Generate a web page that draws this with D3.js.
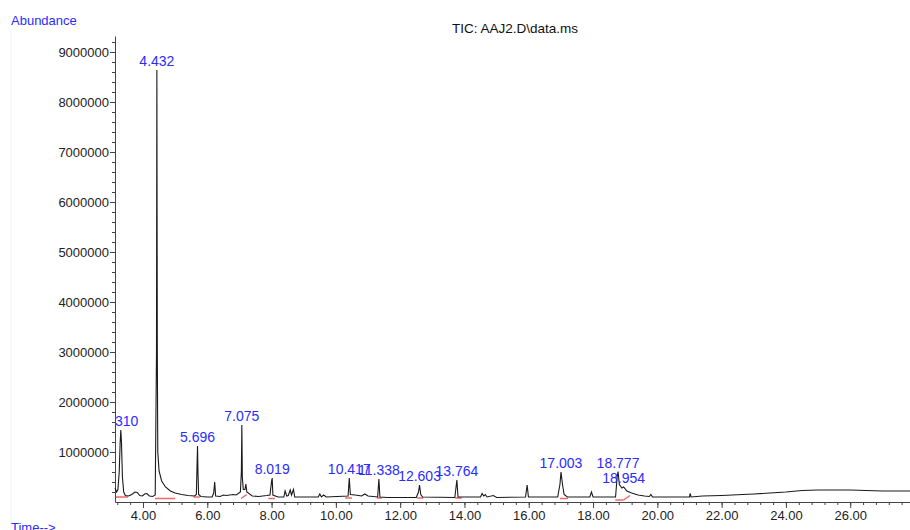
<!DOCTYPE html>
<html>
<head>
<meta charset="utf-8">
<script src="https://cdn.jsdelivr.net/npm/d3@7"></script>
<style>
  body { margin: 0; background: #fff; }
  svg { display: block; font-family: "Liberation Sans", Arial, sans-serif; }
  .tick-label { font-size: 13px; fill: #222; }
  .peak-label { font-size: 14px; fill: #2b2bff; }
  .blue-label { font-size: 13px; fill: #2b2bff; }
</style>
</head>
<body>
<div id="chart"></div>
<script>
// TIC trace: [time (min), abundance]
const trace = [
  [3.13, 280000], [3.18, 200000], [3.22, 250000], [3.26, 600000], [3.29, 1200000],
  [3.31, 1440000], [3.33, 1200000], [3.36, 500000], [3.40, 200000], [3.45, 130000],
  [3.55, 120000], [3.65, 150000], [3.75, 200000], [3.82, 190000], [3.90, 130000],
  [3.98, 120000], [4.05, 160000], [4.12, 170000], [4.20, 120000], [4.30, 110000],
  [4.38, 140000], [4.42, 3000000], [4.432, 8640000], [4.445, 3000000], [4.46, 1000000],
  [4.50, 620000], [4.58, 420000], [4.70, 300000], [4.85, 220000], [5.00, 180000],
  [5.20, 150000], [5.40, 130000], [5.60, 120000], [5.66, 150000], [5.68, 700000],
  [5.696, 1120000], [5.71, 600000], [5.73, 150000], [5.80, 110000], [6.00, 100000],
  [6.15, 100000], [6.20, 180000], [6.23, 400000], [6.26, 120000], [6.40, 110000],
  [6.50, 140000], [6.60, 130000], [6.80, 150000], [6.90, 140000], [7.03, 200000],
  [7.06, 600000], [7.075, 1540000], [7.09, 500000], [7.12, 250000], [7.17, 250000],
  [7.20, 360000], [7.23, 200000], [7.40, 120000], [7.60, 110000], [7.85, 130000],
  [7.95, 140000], [8.00, 420000], [8.019, 480000], [8.04, 140000], [8.20, 100000],
  [8.38, 100000], [8.42, 220000], [8.47, 120000], [8.52, 130000], [8.58, 240000],
  [8.62, 140000], [8.68, 250000], [8.72, 100000], [9.00, 100000], [9.45, 100000],
  [9.50, 160000], [9.55, 100000], [9.62, 140000], [9.70, 100000], [10.38, 120000],
  [10.417, 480000], [10.45, 150000], [10.60, 140000], [10.80, 120000], [10.90, 160000],
  [11.00, 120000], [11.30, 100000], [11.338, 460000], [11.37, 100000], [11.60, 90000],
  [12.50, 90000], [12.57, 200000], [12.603, 340000], [12.64, 150000], [12.70, 100000],
  [13.70, 90000], [13.764, 440000], [13.80, 100000], [14.50, 100000], [14.55, 170000],
  [14.60, 120000], [14.65, 150000], [14.70, 100000], [14.90, 130000], [15.00, 90000],
  [15.90, 100000], [15.95, 340000], [15.99, 100000], [16.90, 100000], [16.97, 350000],
  [17.003, 600000], [17.05, 350000], [17.10, 150000], [17.20, 100000], [17.90, 100000],
  [17.95, 200000], [18.00, 100000], [18.70, 100000], [18.75, 500000], [18.777, 610000],
  [18.82, 350000], [18.90, 280000], [18.954, 300000], [19.05, 220000], [19.20, 180000],
  [19.40, 140000], [19.60, 120000], [19.75, 110000], [19.80, 150000], [19.85, 100000],
  [20.50, 100000], [21.00, 100000], [21.02, 170000], [21.05, 100000], [21.40, 120000],
  [22.00, 130000], [23.00, 160000], [24.00, 200000], [24.50, 230000], [25.00, 240000],
  [26.00, 240000], [27.00, 220000], [27.86, 220000]
];

// labelled peaks
const peakTimes = [3.310, 4.432, 5.696, 7.075, 8.019, 10.417, 11.338, 12.603, 13.764, 17.003, 18.777, 18.954];
const peakApex = [1440000, 8640000, 1120000, 1540000, 480000, 480000, 460000, 340000, 440000, 600000, 610000, 300000];
const peakLabels = ["3.310", "4.432", "5.696", "7.075", "8.019", "10.417", "11.338", "12.603", "13.764", "17.003", "18.777", "18.954"];

// red integration baselines: [t1, a1, t2, a2]
const baselines = [
  [3.16, 100000, 3.53, 100000], [4.37, 70000, 5.00, 70000], [5.57, 100000, 5.77, 100000],
  [7.05, 70000, 7.23, 150000], [7.90, 70000, 8.10, 70000], [10.29, 80000, 10.50, 80000],
  [11.27, 80000, 11.43, 80000], [12.52, 80000, 12.72, 80000], [13.71, 80000, 13.92, 80000],
  [16.97, 70000, 17.22, 70000], [18.69, 40000, 18.95, 40000], [18.95, 40000, 19.15, 130000]
];

const xTickValues = [4, 6, 8, 10, 12, 14, 16, 18, 20, 22, 24, 26];
const yTickValues = [1000000, 2000000, 3000000, 4000000, 5000000, 6000000, 7000000, 8000000, 9000000];

function drawChart() {
    const W = 910, H = 530;
    const left = 115, right = 910, bottom = 502, top = 36;

    const svg = d3.select("#chart").append("svg")
        .attr("width", W)
        .attr("height", H);

    svg.append("rect").attr("width", W).attr("height", H).attr("fill", "#fff");

    // faint frame line on the far left
    svg.append("line")
        .attr("x1", 11).attr("x2", 11).attr("y1", 30).attr("y2", H)
        .attr("stroke", "#eef6ee").attr("stroke-width", 1);

    const x = d3.scaleLinear().domain([3.129, 27.86]).range([left, right]);
    const y = d3.scaleLinear().domain([0, 9320000]).range([bottom, top]);

    // minor ticks
    const xMinor = d3.range(3.2, 27.7, 0.4);
    svg.append("g")
        .attr("transform", `translate(0,${bottom})`)
        .call(d3.axisBottom(x).tickValues(xMinor).tickSize(3).tickFormat("").tickSizeOuter(0))
        .call(g => g.select(".domain").remove())
        .selectAll("line").attr("stroke", "#444");

    const yMinor = d3.range(200000, 9300000, 200000);
    svg.append("g")
        .attr("transform", `translate(${left},0)`)
        .call(d3.axisLeft(y).tickValues(yMinor).tickSize(3).tickFormat("").tickSizeOuter(0))
        .call(g => g.select(".domain").remove())
        .selectAll("line").attr("stroke", "#444");

    // main axes
    const xAxis = svg.append("g")
        .attr("transform", `translate(0,${bottom})`)
        .call(d3.axisBottom(x).tickValues(xTickValues).tickSize(6).tickSizeOuter(0)
            .tickFormat(d3.format(".2f")));
    xAxis.select(".domain").attr("stroke", "#444");
    xAxis.selectAll(".tick line").attr("stroke", "#444");
    xAxis.selectAll("text").attr("class", "tick-label").attr("dy", "0.95em").attr("y", 6);

    const yAxis = svg.append("g")
        .attr("transform", `translate(${left},0)`)
        .call(d3.axisLeft(y).tickValues(yTickValues).tickSize(5).tickSizeOuter(0)
            .tickFormat(d3.format("d")));
    yAxis.select(".domain").attr("stroke", "#444");
    yAxis.selectAll(".tick line").attr("stroke", "#444");
    yAxis.selectAll("text").attr("class", "tick-label").attr("x", -6);
    svg.selectAll("g").attr("font-family", null).attr("font-size", null);

    // plot clip
    svg.append("clipPath").attr("id", "plot-clip")
        .append("rect").attr("x", left - 1).attr("y", 0).attr("width", right - left + 1).attr("height", bottom);

    const plot = svg.append("g").attr("clip-path", "url(#plot-clip)");

    plot.selectAll(".base")
        .data(baselines)
        .enter()
        .append("line")
        .attr("x1", d => x(d[0])).attr("y1", d => y(d[1]))
        .attr("x2", d => x(d[2])).attr("y2", d => y(d[3]))
        .attr("stroke", "#f06868").attr("stroke-width", 1.5);

    const line = d3.line().x(d => x(d[0])).y(d => y(d[1]));
    plot.append("path")
        .datum(trace)
        .attr("d", line)
        .attr("fill", "none")
        .attr("stroke", "#1a1a1a")
        .attr("stroke-width", 1.1);

    plot.selectAll(".peak-label")
        .data(peakTimes)
        .enter()
        .append("text")
        .attr("class", "peak-label")
        .attr("x", d => x(d))
        .attr("y", (d, i) => y(peakApex[i]) - 4)
        .attr("text-anchor", "middle")
        .text((d, i) => peakLabels[i]);

    // labels
    svg.append("text").attr("class", "blue-label").attr("x", 11).attr("y", 25).text("Abundance");
    svg.append("text").attr("class", "blue-label").attr("x", 11).attr("y", 532).text("Time-->");
    svg.append("text")
        .attr("x", 515).attr("y", 33)
        .attr("text-anchor", "middle")
        .style("font-size", "13.5px")
        .style("fill", "#111")
        .text("TIC: AAJ2.D\\data.ms");
}

drawChart();
</script>
</body>
</html>
